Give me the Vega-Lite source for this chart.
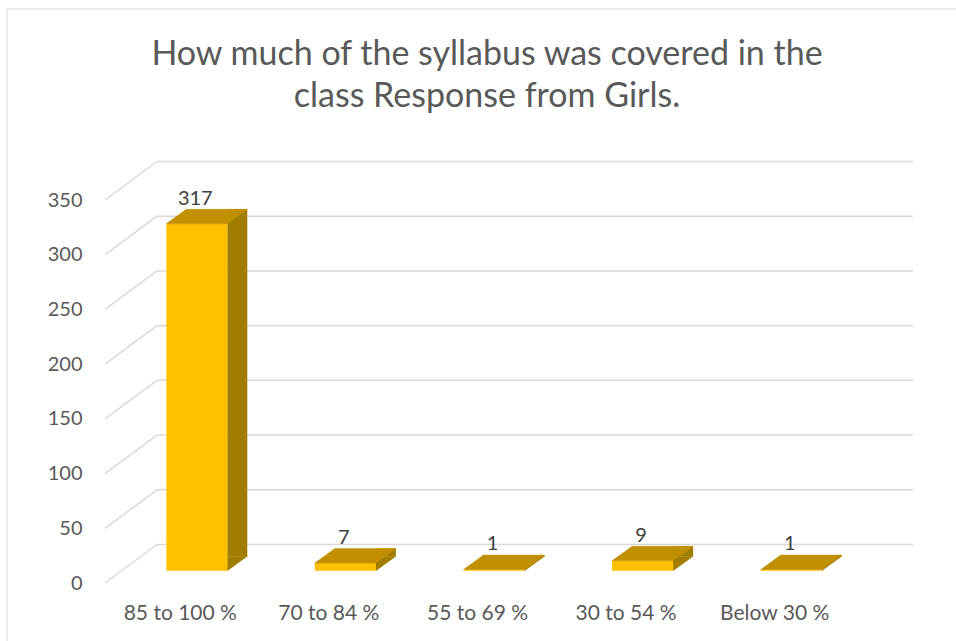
{
  "$schema": "https://vega.github.io/schema/vega-lite/v6.json",
  "width": 743,
  "height": 383,
  "autosize": {"type": "none"},
  "padding": {"left": 106, "top": 200, "right": 107, "bottom": 58},
  "background": "white",
  "config": {
    "view": {"stroke": null},
    "font": "Lato",
    "axisY": {"domain": false, "ticks": false, "grid": false, "labelPadding": 24, "labelFontSize": 20, "labelColor": "#595959", "labelFont": "Lato"},
    "axisX": {"domain": false, "ticks": false, "grid": false, "labelPadding": 19, "labelFontSize": 21, "labelColor": "#595959", "labelAngle": 0, "labelFont": "Lato"}
  },
  "title": {
    "text": ["How much of the syllabus was covered in the", "class Response from Girls."],
    "frame": "group",
    "anchor": "middle",
    "dx": 9.5,
    "offset": -139,
    "baseline": "bottom",
    "fontSize": 34,
    "lineHeight": 42,
    "font": "Lato",
    "fontWeight": "normal",
    "color": "#595959"
  },
  "datasets": {
    "ticks": [{"v": 0}, {"v": 50}, {"v": 100}, {"v": 150}, {"v": 200}, {"v": 250}, {"v": 300}, {"v": 350}]
  },
  "data": {
    "values": [
      {"cat": "85 to 100 %", "v": 317},
      {"cat": "70 to 84 %", "v": 7},
      {"cat": "55 to 69 %", "v": 1},
      {"cat": "30 to 54 %", "v": 9},
      {"cat": "Below 30 %", "v": 1}
    ]
  },
  "layer": [
    {
      "data": {"values": [{"frame": 1}]},
      "mark": {"type": "rect", "fill": null, "stroke": "#D9D9D9", "strokeWidth": 1, "xOffset": -99, "x2Offset": 200, "yOffset": -191, "y2Offset": 100},
      "encoding": {
        "x": {"datum": "85 to 100 %", "type": "nominal", "bandPosition": 0, "title": null},
        "x2": {"datum": "Below 30 %", "bandPosition": 1},
        "y": {"datum": 350, "type": "quantitative", "title": null},
        "y2": {"datum": 0}
      }
    },
    {
      "data": {"name": "ticks"},
      "mark": {"type": "rule", "color": "#D9D9D9", "strokeWidth": 1.5, "xOffset": 51, "x2Offset": 64, "yOffset": -38.5},
      "encoding": {
        "x": {"datum": "85 to 100 %", "type": "nominal", "bandPosition": 0, "title": null},
        "x2": {"datum": "Below 30 %", "bandPosition": 1},
        "y": {"field": "v", "type": "quantitative", "title": null}
      }
    },
    {
      "data": {"name": "ticks"},
      "mark": {"type": "rule", "color": "#D9D9D9", "strokeWidth": 1.5, "xOffset": -1, "x2Offset": 51, "y2Offset": -38.5},
      "encoding": {
        "x": {"datum": "85 to 100 %", "type": "nominal", "bandPosition": 0, "title": null},
        "x2": {"datum": "85 to 100 %", "bandPosition": 0},
        "y": {"field": "v", "type": "quantitative", "title": null},
        "y2": {"field": "v"}
      }
    },
    {
      "mark": {"type": "bar", "width": 20, "xOffset": 57, "yOffset": -26.8, "y2Offset": -26.8, "color": "#A07C00"},
      "encoding": {
        "x": {"field": "cat", "type": "nominal", "title": null, "sort": null,
              "scale": {"domain": ["85 to 100 %", "70 to 84 %", "55 to 69 %", "30 to 54 %", "Below 30 %"], "paddingInner": 0, "paddingOuter": 0}},
        "y": {"field": "v", "type": "quantitative", "title": null, "scale": {"domain": [0, 350], "nice": false}, "axis": {"values": [0, 50, 100, 150, 200, 250, 300, 350]}},
        "y2": {"datum": 0}
      }
    },
    {
      "mark": {"type": "point", "shape": "M-1,-0.725L-1,0.725L1,-0.725Z", "size": 400, "filled": true, "opacity": 1, "color": "#A07C00", "stroke": "#A07C00", "strokeWidth": 0.5, "xOffset": 57, "yOffset": -19.55},
      "encoding": {
        "x": {"field": "cat", "type": "nominal", "title": null},
        "y": {"datum": 0, "type": "quantitative", "title": null}
      }
    },
    {
      "mark": {"type": "bar", "width": 61, "xOffset": 16.5, "yOffset": -12.3, "y2Offset": -12.3, "color": "#FFC000"},
      "encoding": {
        "x": {"field": "cat", "type": "nominal", "title": null},
        "y": {"field": "v", "type": "quantitative", "title": null},
        "y2": {"datum": 0}
      }
    },
    {
      "mark": {"type": "point", "shape": "M-1,0.179L0.506,0.179L1,-0.179L-0.506,-0.179Z", "size": 6561, "filled": true, "opacity": 1, "color": "#C09000", "stroke": "#C09000", "strokeWidth": 0.5, "xOffset": 26.5, "yOffset": -19.55},
      "encoding": {
        "x": {"field": "cat", "type": "nominal", "title": null},
        "y": {"field": "v", "type": "quantitative", "title": null}
      }
    },
    {
      "mark": {"type": "text", "font": "Lato", "fontSize": 20, "color": "#404040", "baseline": "middle", "align": "center", "dx": 15, "dy": -37.5},
      "encoding": {
        "x": {"field": "cat", "type": "nominal", "title": null},
        "y": {"field": "v", "type": "quantitative", "title": null},
        "text": {"field": "v", "type": "quantitative"}
      }
    }
  ]
}
